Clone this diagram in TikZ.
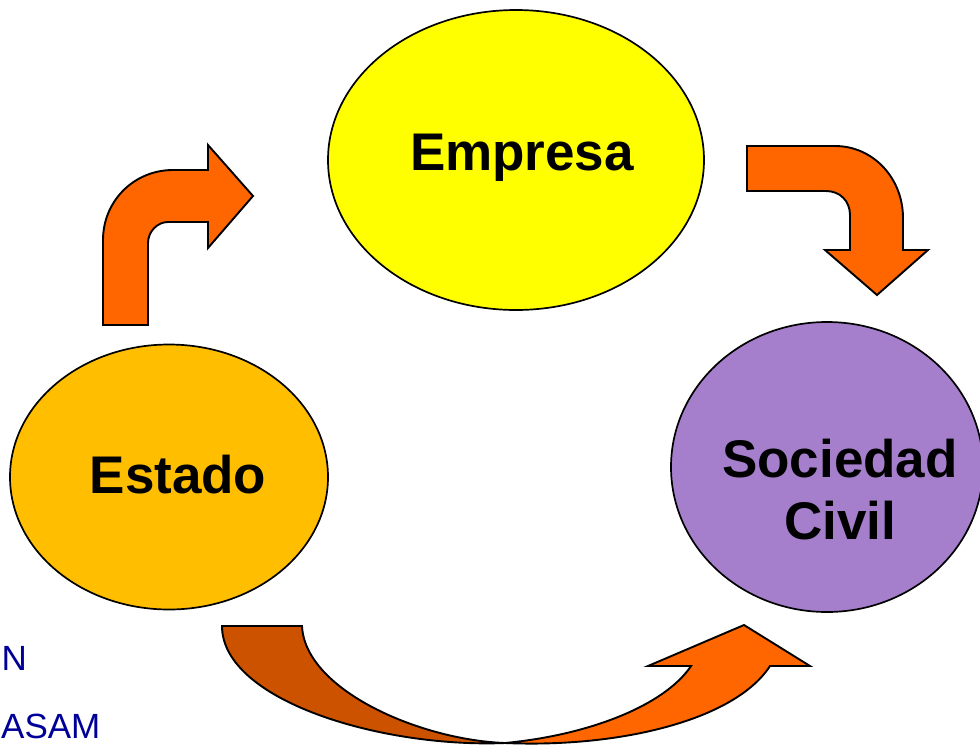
\documentclass[tikz,border=0pt]{standalone}
\usepackage{fontspec}
\setmainfont{Liberation Sans}
\usetikzlibrary{shapes.geometric}
\definecolor{arrowor}{HTML}{FF6600}
\definecolor{arrowdark}{HTML}{CC5200}
\definecolor{empyel}{HTML}{FFFF00}
\definecolor{estor}{HTML}{FFBF00}
\definecolor{socpur}{HTML}{A67FCC}
\definecolor{sidetext}{HTML}{000099}
\tikzset{
  bubble/.style={ellipse, draw=black, line width=1.7pt, inner sep=0pt},
  bigtext/.style={font=\fontsize{53}{62}\selectfont\bfseries, text=black, align=center},
  blockarrow/.style={draw=black, line width=1.9pt, line join=miter, fill=arrowor},
  sidelabel/.style={font=\fontsize{35}{42}\selectfont, text=sidetext, inner sep=0pt}
}
\begin{document}
\begin{tikzpicture}[x=1pt,y=-1pt]
\useasboundingbox (0,0) rectangle (980,745);
\clip (0,0) rectangle (980,745);
\fill[white] (0,0) rectangle (980,745);

% ellipses
\node[bubble, fill=empyel, minimum width=376pt, minimum height=300pt] (empresa) at (516,160) {};
\node[bubble, fill=estor, minimum width=318pt, minimum height=265pt] (estado) at (169,477) {};
\node[bubble, fill=socpur, minimum width=312pt, minimum height=290pt] (sociedad) at (827,467) {};

\node[bigtext] (tempresa) at (522,158) {Empresa};
\node[bigtext] (testado) at (178,475) {Estado};
\node[bigtext] (tsociedad) at (840,490) {Sociedad\\Civil};

% upper left arrow
\draw[blockarrow] (103,325) -- (103,240) .. controls (103,201) and (134,170) .. (173,170)
  -- (208,170) -- (208,145) -- (253,196) -- (208,248) -- (208,222) -- (168,222)
  .. controls (157,222) and (148,232) .. (148,243) -- (148,325) -- cycle;

% upper right arrow
\draw[blockarrow] (747,146) -- (835,146) .. controls (873,146) and (903,178) .. (903,218)
  -- (903,250) -- (928,250) -- (877,295) -- (825,250) -- (850,250) -- (850,215)
  .. controls (850,201) and (840,191) .. (826,191) -- (747,191) -- cycle;

% bottom curved arrow
\draw[blockarrow, fill=arrowdark] (222,626) -- (302,626)
  .. controls (305,690) and (420,740) .. (505,743)
  .. controls (380,748) and (222,700) .. (222,626) -- cycle;
\draw[blockarrow] (505,743) .. controls (590,735) and (665,705) .. (691,666)
  -- (648,666) -- (744,625) -- (810,666) -- (770,666)
  .. controls (735,720) and (620,748) .. (505,743) -- cycle;

% side text
\node[sidelabel, anchor=base east] (sideN) at (27,670) {N};
\node[sidelabel, anchor=base west] (sideASAM) at (1,738) {ASAM};
\end{tikzpicture}
\end{document}
